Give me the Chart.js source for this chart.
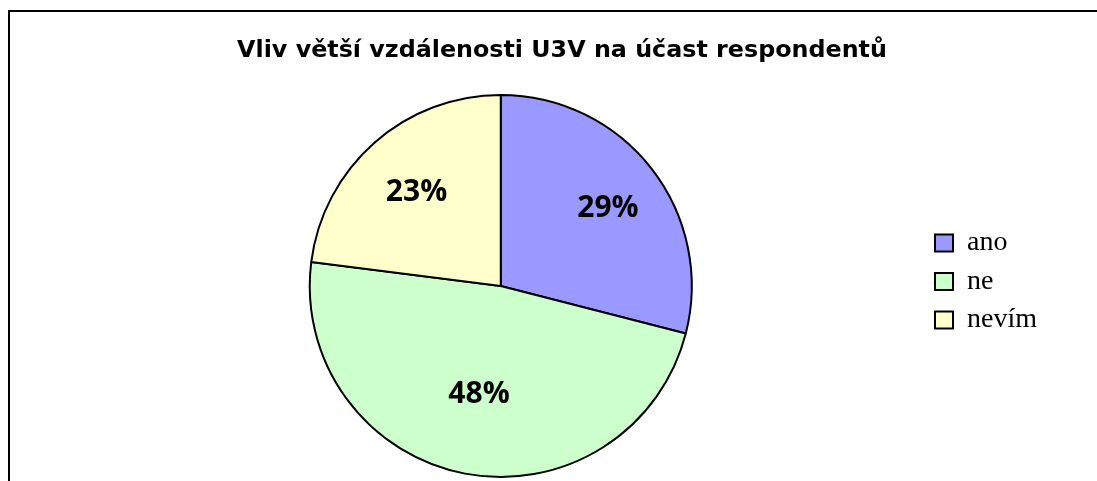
<!DOCTYPE html>
<html>
<head>
<meta charset="utf-8">
<script src="https://cdn.jsdelivr.net/npm/chart.js@4"></script>
<style>
  html, body { margin: 0; padding: 0; background: #fff; overflow: hidden; }
  #graf { display: block; }
</style>
</head>
<body>
<canvas id="graf" width="1097" height="481"></canvas>
<script>
const TITULEK = "Vliv větší vzdálenosti U3V na účast respondentů";
const KATEGORIE = ["ano", "ne", "nevím"];
const PROCENTA = [29, 48, 23];
const BARVY = ["#9999FF", "#CCFFCC", "#FFFFCC"];

const PISMO_POPISKU = "bold 30px 'Open Sans'";

// ramecek kolem grafu (jako v Excelu), vpravo a dole je oriznuty
const ramecek = {
  id: "ramecek",
  beforeDraw(chart) {
    const ctx = chart.ctx;
    ctx.save();
    ctx.fillStyle = "#fff";
    ctx.fillRect(0, 0, chart.width, chart.height);
    ctx.fillStyle = "#000";
    ctx.fillRect(8, 10, 2, chart.height);
    ctx.fillRect(8, 10, chart.width, 2);
    ctx.restore();
  },
};

// popisky procent uvnitr vysecí
const popisky = {
  id: "popisky",
  afterDatasetsDraw(chart) {
    const ctx = chart.ctx;
    const meta = chart.getDatasetMeta(0);
    ctx.save();
    ctx.font = PISMO_POPISKU;
    ctx.fillStyle = "#000";
    ctx.textAlign = "center";
    ctx.textBaseline = "middle";
    meta.data.forEach((arc, i) => {
      const p = arc.getProps(["x", "y", "startAngle", "endAngle", "outerRadius"], true);
      const uhel = (p.startAngle + p.endAngle) / 2;
      const txt = PROCENTA[i] + "%";
      const w = ctx.measureText(txt).width;
      const ux = Math.cos(uhel), uy = Math.sin(uhel);
      const r = p.outerRadius * 0.53;
      ctx.fillText(txt, p.x + ux * (r + w / 2) + 3, p.y + uy * (r + 15) - 6);
    });
    ctx.restore();
  },
};

function kresli() {
  new Chart(document.getElementById("graf"), {
    type: "pie",
    data: {
      labels: KATEGORIE,
      datasets: [{
        data: PROCENTA,
        backgroundColor: BARVY,
        borderColor: "#000",
        borderWidth: 2,
      }],
    },
    options: {
      responsive: false,
      animation: false,
      layout: {
        padding: { left: 77, right: 50, top: 0, bottom: 3 },
      },
      plugins: {
        title: {
          display: true,
          text: TITULEK,
          color: "#000",
          font: { family: "'DejaVu Sans'", size: 23.8, weight: "bold" },
          padding: { top: 36.7, bottom: 28.7 },
        },
        legend: {
          position: "right",
          // prazdny titulek jen posune polozky legendy dolu
          title: { display: true, text: "", font: { size: 10 }, padding: { top: 0, bottom: 73 } },
          labels: {
            color: "#000",
            font: { family: "'Liberation Serif'", size: 28 },
            boxWidth: 18,
            boxHeight: 17,
            padding: 10.5,
          },
        },
        tooltip: { enabled: false },
      },
    },
    plugins: [ramecek, popisky],
  });
}

Promise.all([
  document.fonts.load(PISMO_POPISKU),
  document.fonts.load("bold 24px 'DejaVu Sans'"),
  document.fonts.load("28px 'Liberation Serif'"),
]).then(kresli, kresli);
</script>
</body>
</html>
